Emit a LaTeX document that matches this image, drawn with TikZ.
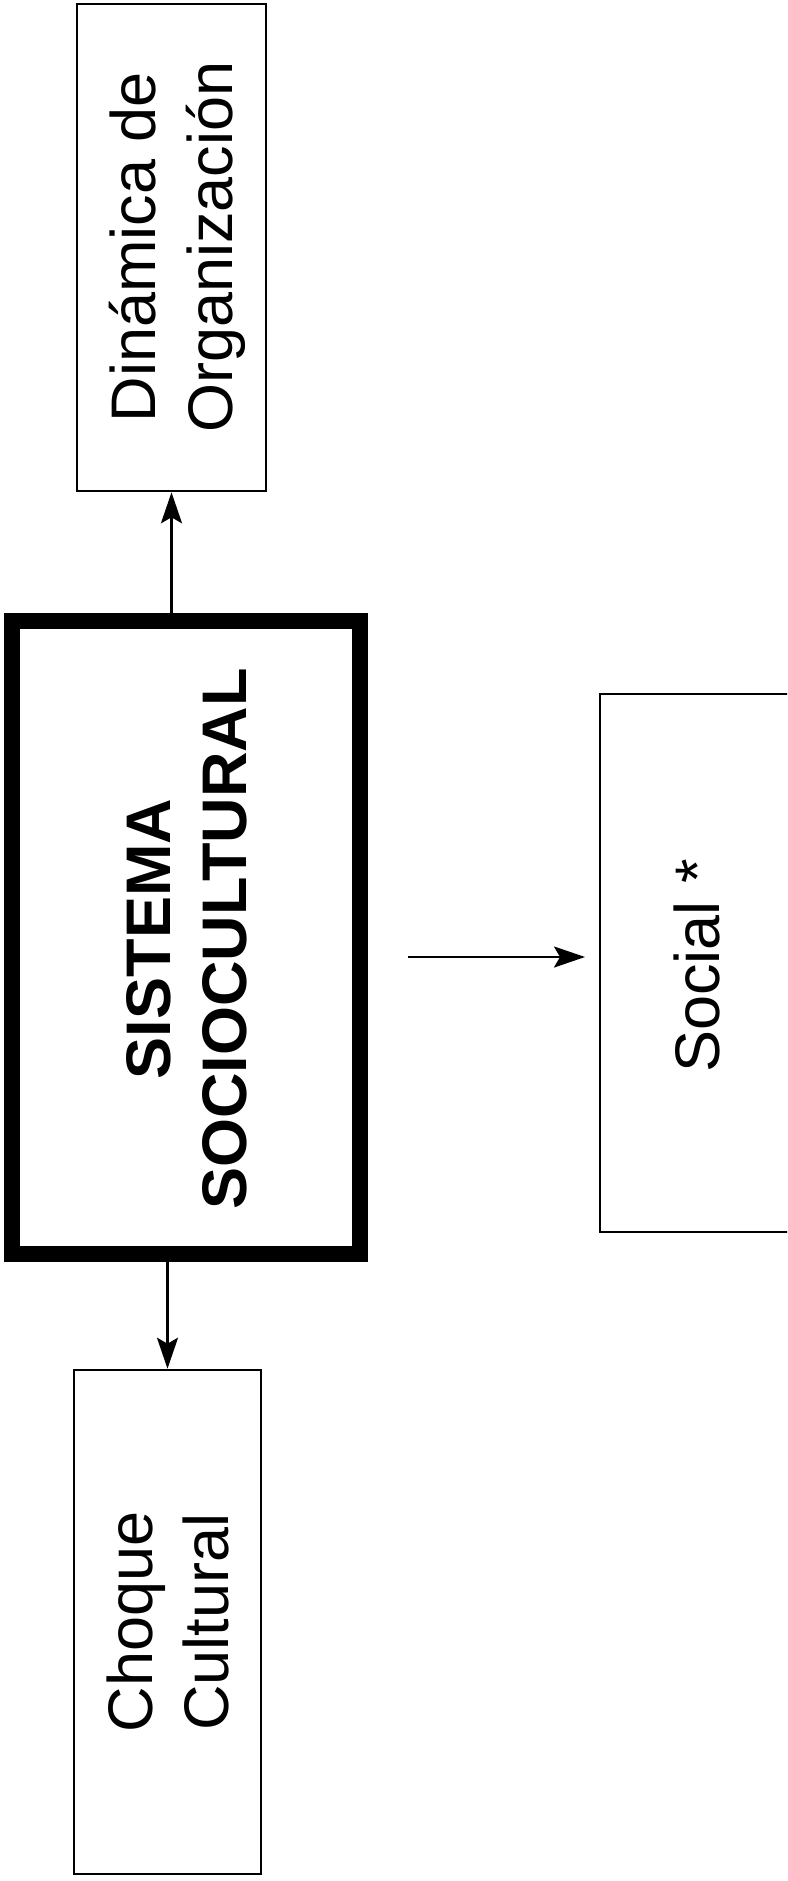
\documentclass[tikz,border=0pt]{standalone}
\usepackage{fontspec}
\setmainfont{Liberation Sans}
\usetikzlibrary{arrows.meta}
\begin{document}
\begin{tikzpicture}[x=1pt,y=-1pt,
  thinbox/.style={draw=black, line width=2.6pt, fill=none, inner sep=0pt},
  thickbox/.style={draw=black, line width=16pt, fill=none, inner sep=0pt},
  lbl/.style={rotate=90, align=center, inner sep=0pt, font=\fontsize{63}{77}\selectfont},
  arr/.style={line width=2.4pt, -{Stealth[length=31pt,width=21pt,inset=6pt]}}]
\useasboundingbox (0,0) rectangle (787,1881);
\begin{scope}
\clip (0,0) rectangle (787,1881);
% boxes
\node[thinbox, minimum width=189pt, minimum height=487pt] (dyn) at (171.5,247.5) {};
\node[thickbox, minimum width=348pt, minimum height=633pt] (sys) at (186,937.5) {};
\node[thinbox, minimum width=200pt, minimum height=538pt] (soc) at (700,963) {};
\node[thinbox, minimum width=187pt, minimum height=504pt] (cho) at (167.5,1622) {};
% texts
\node[lbl] (tdyn) at (177.5,247) {Dinámica de\\Organización};
\node[lbl, font=\fontsize{63}{76}\selectfont\bfseries] (tsys) at (187,939) {SISTEMA\\SOCIOCULTURAL};
\node[lbl] (tsoc) at (697,966) {Social *};
\node[lbl, font=\fontsize{63}{76}\selectfont] (tcho) at (168,1622) {Choque\\Cultural};
% connectors
\draw[arr] (dyn.south |- sys.north) -- (dyn.south);
\draw[arr] (cho.north |- sys.south) -- (cho.north);
\coordinate (hs) at (408,957);
\coordinate (he) at (585,957);
\draw[arr] (hs) -- (he);
\end{scope}
\end{tikzpicture}
\end{document}
